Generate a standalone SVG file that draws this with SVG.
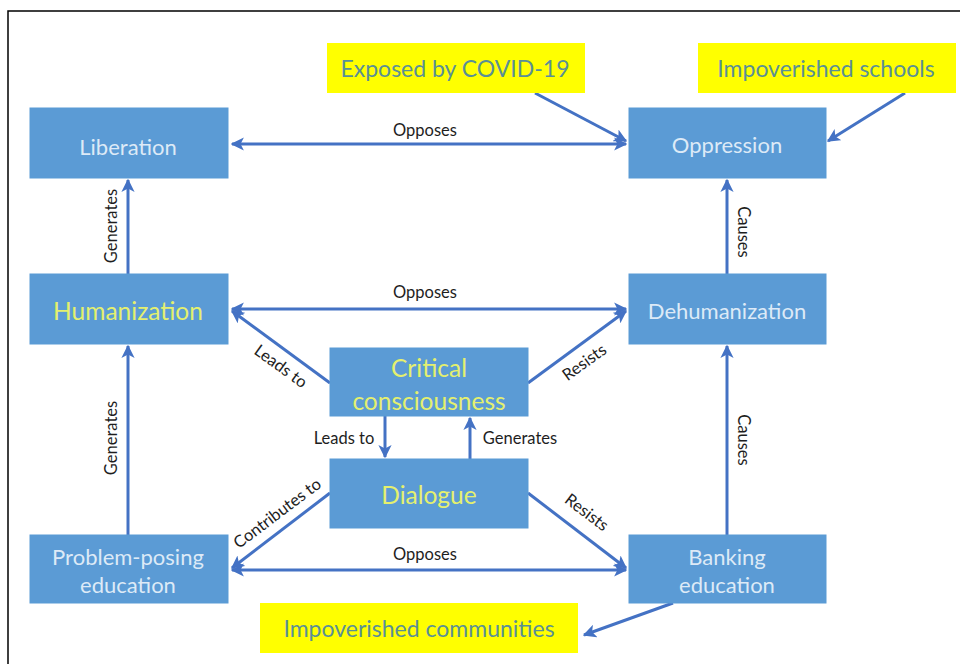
<svg xmlns="http://www.w3.org/2000/svg" width="960" height="664" viewBox="0 0 960 664">
<defs>
<marker id="ah" viewBox="0 0 10 10" refX="9" refY="5" markerWidth="4.4" markerHeight="4.4" orient="auto-start-reverse" markerUnits="strokeWidth">
<path d="M0,0 L10,5 L0,10 L2.5,5 Z" fill="#4472c4"/>
</marker>
</defs>
<style>
.box{fill:#5b9bd5;stroke:#5b9bd5;}
.note{fill:#ffff00;}
.t{font-family:Lato,"Open Sans","Liberation Sans",sans-serif;font-size:22px;text-anchor:middle;dominant-baseline:central;fill:#ddeaf7;}
.y{fill:#e4f06e;font-size:24.5px;}
.nt{font-family:Lato,"Open Sans","Liberation Sans",sans-serif;font-size:23px;text-anchor:middle;dominant-baseline:central;fill:#5a8f96;}
.lbl{font-family:Lato,"Open Sans","Liberation Sans",sans-serif;font-size:16.5px;text-anchor:middle;dominant-baseline:central;fill:#1e1e1e;}
.c{stroke:#4472c4;stroke-width:3;fill:none;marker-end:url(#ah);}
.c2{stroke:#4472c4;stroke-width:3;fill:none;marker-end:url(#ah);marker-start:url(#ah);}
</style>
<rect x="0" y="0" width="960" height="664" fill="#ffffff"/>
<rect x="8" y="11" width="962" height="670" fill="none" stroke="#000" stroke-width="1.5"/>

<g id="connectors">
<line class="c2" x1="232" y1="144" x2="626" y2="144"/>
<line class="c2" x1="232" y1="309" x2="626" y2="309"/>
<line class="c2" x1="232" y1="570" x2="626" y2="570"/>
<line class="c" x1="128" y1="274" x2="128" y2="180"/>
<line class="c" x1="128" y1="535" x2="128" y2="346"/>
<line class="c" x1="727" y1="274" x2="727" y2="180"/>
<line class="c" x1="727" y1="535" x2="727" y2="346"/>
<line class="c" x1="330" y1="383" x2="232" y2="311"/>
<line class="c" x1="528" y1="383" x2="626" y2="311"/>
<line class="c" x1="385" y1="416" x2="385" y2="457"/>
<line class="c" x1="470" y1="459" x2="470" y2="418"/>
<line class="c" x1="330" y1="493" x2="232" y2="568"/>
<line class="c" x1="528" y1="493" x2="626" y2="568"/>
<line class="c" x1="535" y1="93" x2="626" y2="141"/>
<line class="c" x1="905" y1="93" x2="828" y2="141"/>
<line class="c" x1="673" y1="603" x2="584" y2="635"/>
<text class="lbl" x="425" y="130">Opposes</text>
<text class="lbl" x="425" y="292">Opposes</text>
<text class="lbl" x="425" y="554">Opposes</text>
<text class="lbl" transform="translate(111,226) rotate(-90)">Generates</text>
<text class="lbl" transform="translate(111,438) rotate(-90)">Generates</text>
<text class="lbl" transform="translate(744,232) rotate(90)">Causes</text>
<text class="lbl" transform="translate(744,440) rotate(90)">Causes</text>
<text class="lbl" transform="translate(281,366) rotate(36)">Leads to</text>
<text class="lbl" transform="translate(584,362) rotate(-36)">Resists</text>
<text class="lbl" x="344" y="438">Leads to</text>
<text class="lbl" x="520" y="438">Generates</text>
<text class="lbl" transform="translate(277,513) rotate(-37)">Contributes to</text>
<text class="lbl" transform="translate(587,512) rotate(37)">Resists</text>
</g>

<g id="exposed"><rect class="note" x="327" y="43" width="258" height="50"/><text class="nt" x="455" y="68">Exposed by COVID-19</text></g>
<g id="schools"><rect class="note" x="698" y="43" width="258" height="50"/><text class="nt" x="826" y="68">Impoverished schools</text></g>
<g id="communities"><rect class="note" x="260" y="603" width="318" height="50"/><text class="nt" x="419" y="628">Impoverished communities</text></g>

<g id="liberation"><rect class="box" x="30" y="108" width="198" height="70"/><text class="t" x="128" y="146">Liberation</text></g>
<g id="oppression"><rect class="box" x="629" y="108" width="197" height="70"/><text class="t" x="727" y="144">Oppression</text></g>
<g id="humanization"><rect class="box" x="30" y="274" width="198" height="70"/><text class="t y" x="128" y="310">Humanization</text></g>
<g id="dehumanization"><rect class="box" x="629" y="274" width="197" height="70"/><text class="t" x="727" y="310">Dehumanization</text></g>
<g id="critical"><rect class="box" x="330" y="348" width="198" height="68"/><text class="t y" x="429" y="367">Critical</text><text class="t y" x="429" y="400">consciousness</text></g>
<g id="dialogue"><rect class="box" x="330" y="459" width="198" height="69"/><text class="t y" x="429" y="494">Dialogue</text></g>
<g id="problem"><rect class="box" x="30" y="535" width="198" height="68"/><text class="t" x="128" y="556">Problem-posing</text><text class="t" x="128" y="584">education</text></g>
<g id="banking"><rect class="box" x="629" y="535" width="197" height="68"/><text class="t" x="727" y="556">Banking</text><text class="t" x="727" y="584">education</text></g>
</svg>
